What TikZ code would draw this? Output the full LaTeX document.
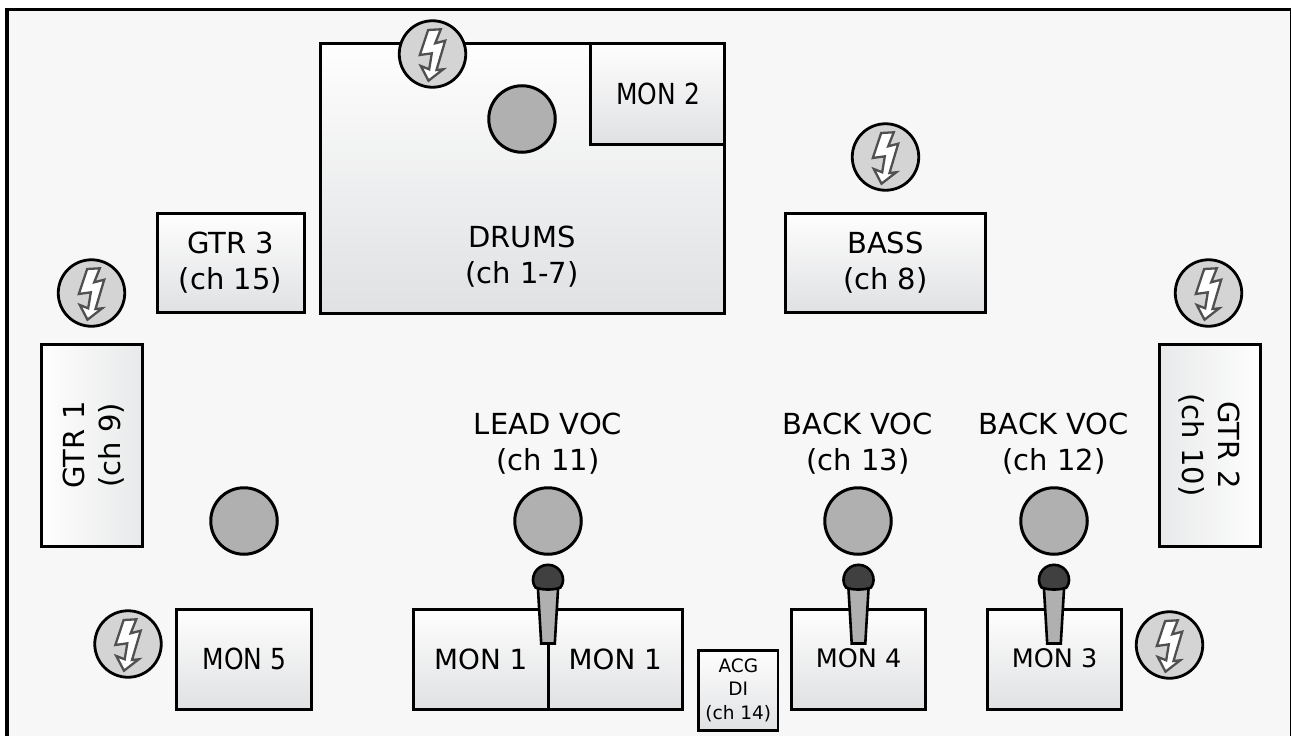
\documentclass[tikz,border=0pt]{standalone}
\usepackage{fontspec}
\setmainfont{DejaVu Sans}
\newfontfamily\narrowfont[FakeStretch=0.86]{DejaVu Sans}
\definecolor{boxtop}{HTML}{FEFEFE}
\definecolor{boxbot}{HTML}{E0E1E3}
\definecolor{sidebot}{HTML}{E8E9EA}
\definecolor{persongray}{HTML}{B0B0B0}
\definecolor{discgray}{HTML}{D4D4D4}
\definecolor{headgray}{HTML}{404040}
\definecolor{boltgray}{HTML}{505050}
\definecolor{stagebg}{HTML}{F7F7F7}
\tikzset{
  x=1pt,y=-1pt,
  box/.style={draw=black,line width=3pt,top color=boxtop,bottom color=boxbot,inner sep=0pt,align=center,anchor=north west,font=\fontsize{29}{36}\selectfont},
  sidebox/.style={draw=black,line width=3pt,inner sep=0pt,anchor=north west,minimum width=101pt,minimum height=202pt},
  monbig/.style={font=\fontsize{27.8}{34}\selectfont},
  monnarrow/.style={font=\narrowfont\fontsize{29}{36}\selectfont},
  monsmall/.style={font=\fontsize{25.5}{30}\selectfont},
  person/.style={circle,draw=black,line width=3pt,fill=persongray,minimum size=66.5pt,inner sep=0pt},
  powerdisc/.style={circle,draw=black,line width=2.8pt,fill=discgray,minimum size=66.5pt,inner sep=0pt},
  micbody/.style={draw=black,line width=2.6pt,fill=persongray,line join=miter},
  michead/.style={draw=black,line width=2.6pt,fill=headgray},
  lbl/.style={align=center,font=\fontsize{29}{36}\selectfont,inner sep=0pt},
  bolt/.pic={
    \draw[draw=boltgray,line width=2.3pt,fill=white,line join=miter]
      (-4.3,-24) -- (8.3,-24.7) -- (2.7,-10.7) -- (12.7,-13.3) -- (4,16) -- (10.7,15.3)
      -- (-4,26.7) -- (-11.7,12) -- (-3.3,15.3) -- (-0.7,-0.7) -- (-12.7,1) -- cycle;
  }
}
\begin{document}
\begin{tikzpicture}
\useasboundingbox (0,0) rectangle (1291,736);
\fill[white] (0,0) rectangle (1291,736);
\draw[black,line width=3.5pt,fill=stagebg] (7,9.5) rectangle (1292.2,745);

\node[box,minimum width=404.5pt,minimum height=270pt] (drums) at (318.5,42) {};
\node[lbl] (drumst) at (522,257) {DRUMS\\(ch 1-7)};
\node[box,minimum width=134pt,minimum height=100.5pt,monnarrow] (mon2) at (589,42) {\hspace*{1.5pt}MON 2};
\node[box,minimum width=147pt,minimum height=99.5pt] (gtr3) at (155.5,211.5) {GTR 3\\(ch 15)};
\node[box,minimum width=200.5pt,minimum height=99.5pt] (bass) at (783.7,211.5) {BASS\\(ch 8)};
\node[sidebox,left color=boxtop,right color=sidebot] (gtr1) at (40,343.3) {};
\node[lbl,rotate=90] (gtr1t) at (94,445) {GTR 1\\(ch 9)};
\node[sidebox,left color=sidebot,right color=boxtop] (gtr2) at (1158,343.3) {};
\node[lbl,rotate=-90] (gtr2t) at (1209,445) {GTR 2\\(ch 10)};
\node[box,minimum width=134.5pt,minimum height=100pt,monnarrow] (mon5) at (175,607.5) {\hspace*{1.5pt}MON 5};
\node[box,minimum width=134.5pt,minimum height=100pt,monbig] (mon1a) at (412,607.5) {MON 1};
\node[box,minimum width=134.5pt,minimum height=100pt,monbig] (mon1b) at (546.5,607.5) {MON 1};
\node[box,minimum width=134pt,minimum height=100pt,monsmall] (mon4) at (790,607.5) {\raisebox{1pt}{MON 4}};
\node[box,minimum width=134pt,minimum height=100pt,monsmall] (mon3) at (986,607.5) {\raisebox{1pt}{MON 3}};
\node[box,minimum width=79.5pt,minimum height=80pt,font=\fontsize{18.5}{23.5}\selectfont,line width=2.5pt] (acg) at (697.3,649) {ACG\\DI\\(ch 14)};

\node[person] (pd) at (522,119) {};
\node[person] (p5) at (244,521) {};
\node[person] (pl) at (548,521) {};
\node[person] (pb1) at (858,521) {};
\node[person] (pb2) at (1054,521) {};

\node[lbl] (ll) at (548,443.5) {LEAD VOC\\(ch 11)};
\node[lbl] (lb1) at (858,443.5) {BACK VOC\\(ch 13)};
\node[lbl] (lb2) at (1054,443.5) {BACK VOC\\(ch 12)};

\foreach \x in {548,858.5,1054}{
  \draw[micbody] (\x-10.2,586) -- (\x+10.2,586) -- (\x+6.8,643.5) -- (\x-6.8,643.5) -- cycle;
  \draw[michead] (\x-12.5,587.5) .. controls (\x-19,579) and (\x-12.5,564.8) .. (\x,564.8)
     .. controls (\x+12.5,564.8) and (\x+19,579) .. (\x+12.5,587.5)
     .. controls (\x+6,590.2) and (\x-6,590.2) .. (\x-12.5,587.5) -- cycle;
}

\foreach \n/\x/\y in {d1/432.5/54,d2/885.5/157,d3/91.5/293,d4/1208.5/293,d5/128/644,d6/1169.5/645}{
  \node[powerdisc] (\n) at (\x,\y) {};
  \pic at (\x,\y) {bolt};
}
\end{tikzpicture}
\end{document}
